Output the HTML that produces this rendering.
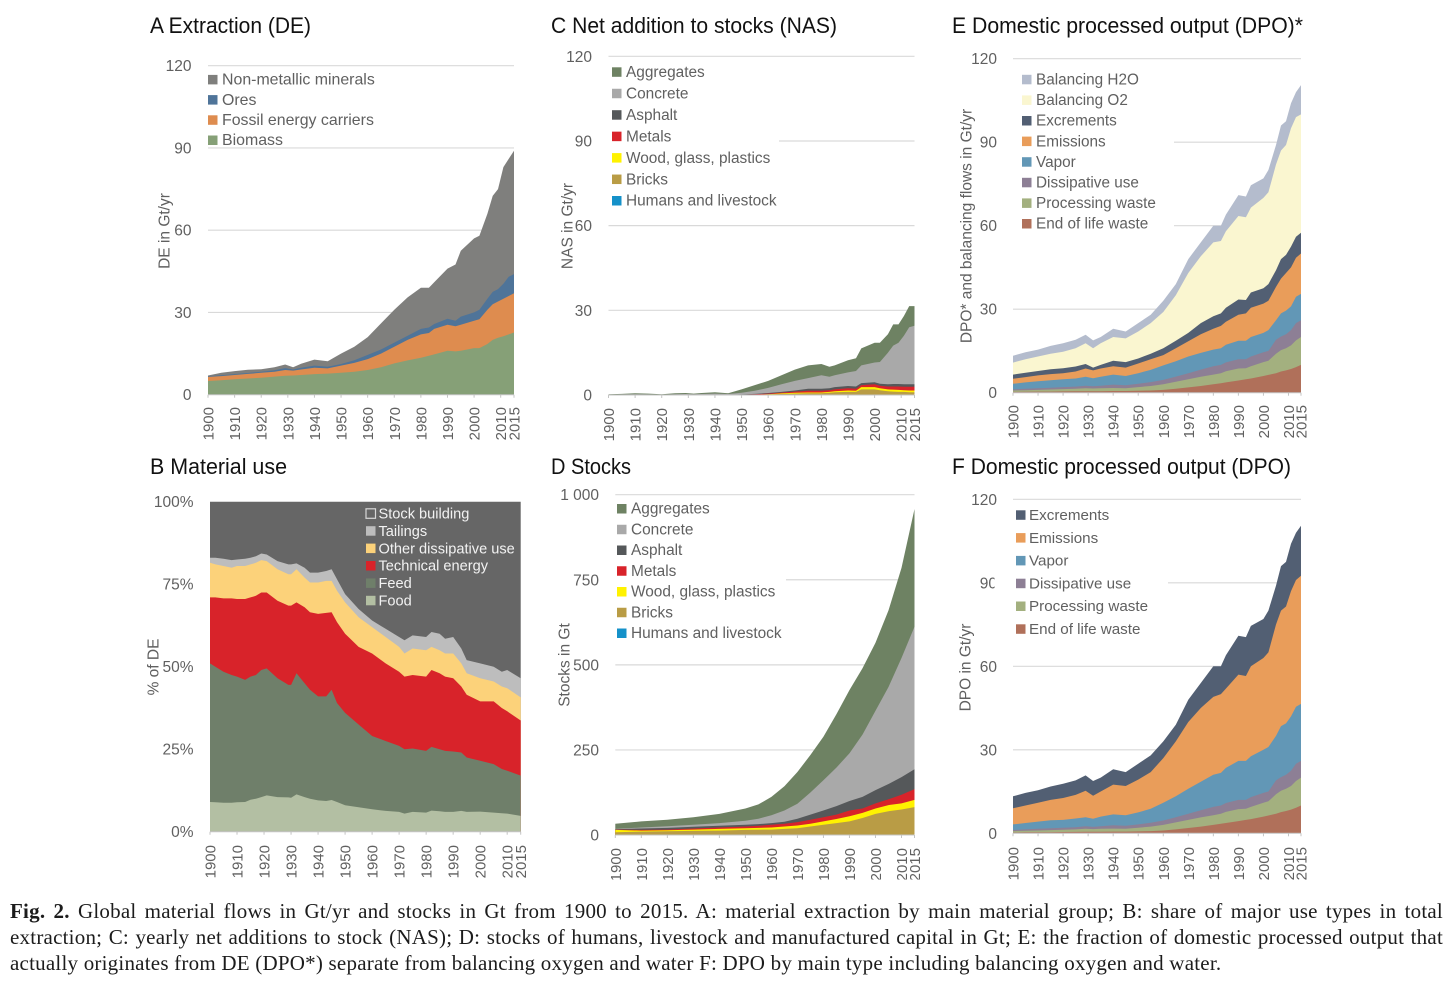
<!DOCTYPE html>
<html lang="en">
<head>
<meta charset="utf-8">
<title>Global material flows 1900-2015</title>
<style>
html,body{margin:0;padding:0;background:#fff;}
#page{position:relative;width:1456px;height:990px;overflow:hidden;background:#fff;}
svg{position:absolute;left:0;top:0;font-family:"Liberation Sans",sans-serif;}
.cap{position:absolute;left:10px;width:1433px;font-family:"Liberation Serif",serif;font-size:21px;letter-spacing:.22px;line-height:26px;color:#1c1c1c;white-space:nowrap;}
.just{text-align:justify;text-align-last:justify;white-space:normal;}
</style>
</head>
<body>
<div id="page">
<svg id="fig" width="1456" height="890" viewBox="0 0 1456 890" xmlns="http://www.w3.org/2000/svg"></svg>
<div class="cap just" style="top:898px"><b>Fig. 2.</b> Global material flows in Gt/yr and stocks in Gt from 1900 to 2015. A: material extraction by main material group; B: share of major use types in total</div>
<div class="cap just" style="top:924px">extraction; C: yearly net additions to stock (NAS); D: stocks of humans, livestock and manufactured capital in Gt; E: the fraction of domestic processed output that</div>
<div class="cap" style="top:950px">actually originates from DE (DPO*) separate from balancing oxygen and water F: DPO by main type including balancing oxygen and water.</div>
</div>
<script>
// ---------- shared axes ----------
const yearTicks = [1900,1910,1920,1930,1940,1950,1960,1970,1980,1990,2000,2010,2015];
const flowYears = [1900,1905,1910,1915,1920,1925,1929,1932,1935,1940,1945,1950,1955,1960,1965,1970,1975,1980,1983,1985,1990,1993,1995,2000,2002,2005,2007,2009,2011,2013,2015];

// All series below are stack heights (top edge of each band).

// ---------- A Extraction ----------
const aLabels = ["Non-metallic minerals","Ores","Fossil energy carriers","Biomass"];
const aTicks = [0,30,60,90,120];
const aMinerals = [7,8,8.6,9.1,9.3,10,11,10,11.3,12.8,12.2,15,17.5,21,26,31,35.5,39,39,41,46,47.5,52.5,57,58,66,72.5,75,83,86,89];
const aOres = [6.8,7.1,7.5,7.9,8.4,8.9,9.7,9.2,9.8,10.6,10.2,11.2,12.6,14.5,16.5,19,21.5,24,24.5,25.8,27.7,27,28.5,30,31,35,37.5,38.5,40.5,43,44];
const aFossil = [6.5,6.8,7.2,7.6,8,8.4,9,8.8,9.2,9.8,9.6,10.6,11.6,13,15,17.5,20,22,22.5,24,25.5,25,25.5,27,27.5,31,33,34,35,36,37];
const aBiomass = [5,5.3,5.6,5.9,6.2,6.6,6.9,7,7.2,7.5,7.7,8,8.4,9,10,11.4,12.5,13.5,14.2,14.7,16,15.8,16,17,17,18.5,20,20.8,21.3,22,22.7];

// ---------- C Net addition to stocks ----------
const cLabels = ["Aggregates","Concrete","Asphalt","Metals","Wood, glass, plastics","Bricks","Humans and livestock"];
const cTicks = [0,30,60,90,120];
const cAggregates = [.3,.4,.6,.5,.3,.6,.7,.5,.7,1,.6,2,3.5,5,7,9,10.5,11,10,10.5,12.3,13,16.5,18.5,18.5,21.5,25,25,28,31.5,31.5];
const cConcrete = [.15,.2,.25,.2,.15,.3,.35,.25,.35,.5,.35,.8,1.5,2.5,3.8,5,6,7,6.5,7,8,8.5,10.5,11.5,11.7,15,17.5,18.5,21,24,24.5];
const cAsphalt = [.12,.12,.12,.12,.12,.12,.12,.12,.12,.12,.12,.2,.4,.7,1.1,1.6,2.2,2.2,2.4,2.8,3.2,3,4.2,4.5,4,3.8,3.9,3.9,3.8,3.8,3.8];
const cMetals = [.1,.1,.1,.1,.1,.1,.1,.1,.1,.1,.1,.15,.3,.5,.85,1.2,1.5,1.5,1.7,2,2.4,2.2,3.5,3.8,3.3,3,3,3,2.9,2.9,2.9];
const cWood = [.07,.07,.07,.07,.07,.07,.07,.07,.07,.07,.07,.07,.07,.3,.55,.8,.9,.9,1.1,1.3,1.6,1.5,2.8,2.8,2.4,2,1.9,1.8,1.7,1.6,1.6];
const cBricks = [.05,.05,.05,.05,.05,.05,.05,.05,.05,.05,.05,.05,.05,.2,.35,.5,.6,.6,.8,1,1.1,1.1,2,2,1.7,1.3,1.2,1.1,1.1,1,1];
const cHumans = [.03,.03,.03,.03,.03,.03,.03,.03,.03,.03,.03,.03,.03,.03,.03,.03,.03,.03,.03,.03,.03,.03,.03,.03,.03,.03,.03,.03,.03,.03,.03];

// ---------- E Domestic processed output* ----------
const eLabels = ["Balancing H2O","Balancing O2","Excrements","Emissions","Vapor","Dissipative use","Processing waste","End of life waste"];
const eTicks = [0,30,60,90,120];
const eH2O = [13.3,14.5,15.5,16.8,17.8,19,20.8,18.8,20,23,22,25,28,33,39,48,54,60,60,64,71,70.5,74.5,77,80,89,96,97.5,104,108,110.5];
const eO2 = [10.8,12,13,14,14.7,16,17.8,16,17.8,20,19.5,22,25,29,35,43,49,54,54.5,58,63.5,63,66.5,70,72,82,87,89,95,99,100];
const eExcrements = [6.5,7.2,7.8,8.4,8.8,9.4,10.3,9,10,11.5,11,12.3,14,16,18.7,21.5,25,27.5,28.5,30.5,33.5,33.3,36,37.5,39,44,48,49.5,52.5,56,57.5];
const eEmissions = [5,5.6,6.2,6.7,7,7.6,8.7,8,8.7,9.5,9,10.5,12,13.5,16,18.5,21,23,24,25.5,28,28.5,30.5,32,33,38,41,43,45,48.5,50];
const eVapor = [3.2,3.7,4.1,4.5,4.8,5.1,5.7,5.2,5.7,6.5,6,7,8.2,9.8,11.3,13,14.3,15.5,16,17.2,18.7,18.7,20,21.5,22.5,26,28.5,29.5,31,34.5,35.5];
const eDissipative = [1.2,1.4,1.6,1.8,2,2.2,2.5,2.3,2.5,2.9,2.7,3.2,3.8,4.6,5.8,7,8.3,9.5,10,10.9,12,12,13,14.5,15,19,20.2,21,22.5,25,26];
const eProcessing = [.8,.9,1,1.15,1.3,1.4,1.6,1.5,1.6,1.7,1.6,2,2.4,3,3.9,4.8,5.7,6.5,7,7.7,8.7,8.8,9.5,11,11.5,14,15.3,16,17,18.8,20];
const eEndOfLife = [.3,.35,.4,.4,.45,.5,.55,.55,.55,.6,.6,.7,.8,1,1.4,1.9,2.4,3,3.4,3.7,4.4,4.8,5.1,6,6.4,7,7.6,8,8.5,9.2,10];

// ---------- F Domestic processed output ----------
const fLabels = ["Excrements","Emissions","Vapor","Dissipative use","Processing waste","End of life waste"];
const fTicks = [0,30,60,90,120];
const fExcrements = [13.3,14.5,15.5,16.8,17.8,19,20.8,18.8,20,23,22,25,28,33,39,48,54,60,60,64,71,70.5,74.5,77,80,89,96,97.5,104,108,110.5];
const fEmissions = [9,10,11,12,12.7,13.8,15.3,13.5,15,17.5,17,19.3,22,27,33,40,45,49,50,52,57,56.5,60,63,65,75,80,81.5,87,91,92.5];
const fVapor = [3.2,3.7,4.2,4.7,4.8,5.3,5.8,5.2,6,6.8,6.5,7.5,8.8,11,13.3,16,18.5,21,21.7,23.5,26,26,27.7,30,31,35,38.5,39.5,42,45.5,46.5];
const fDissipative = [1.2,1.4,1.6,1.8,2,2.2,2.5,2.3,2.5,2.9,2.7,3.2,3.8,4.6,5.8,7,8.3,9.5,10,10.9,12,12,13,14.5,15,19,20.2,21,22.5,25,26];
const fProcessing = [.8,.9,1,1.15,1.3,1.4,1.6,1.5,1.6,1.7,1.6,2,2.4,3,3.9,4.8,5.7,6.5,7,7.7,8.7,8.8,9.5,11,11.5,14,15.3,16,17,18.8,20];
const fEndOfLife = [.3,.35,.4,.4,.45,.5,.55,.55,.55,.6,.6,.7,.8,1,1.4,1.9,2.4,3,3.4,3.7,4.4,4.8,5.1,6,6.4,7,7.6,8,8.5,9.2,10];

// ---------- B Material use (percent) ----------
const bYears = [1900,1902,1905,1908,1910,1913,1915,1917,1919,1921,1925,1929,1930,1932,1935,1937,1940,1943,1945,1947,1950,1955,1960,1965,1970,1972,1975,1980,1982,1985,1987,1990,1993,1995,2000,2005,2008,2010,2015];
const bLabels = ["Stock building","Tailings","Other dissipative use","Technical energy","Feed","Food"];
const bTicks = [0,25,50,75,100];
const bStock = [100,100,100,100,100,100,100,100,100,100,100,100,100,100,100,100,100,100,100,100,100,100,100,100,100,100,100,100,100,100,100,100,100,100,100,100,100,100,100];
const bTailings = [83,83,82.7,82.3,82.5,82.7,83,83.5,84.3,84,82,81,81,81.3,80,78.5,78.5,79,79.5,76.5,72,67.5,64,61.5,59,58,59.5,59,60.5,60,58.5,59,55.5,52,51,50,48.5,49,46.5];
const bOther = [81.5,81,80.5,80,80.5,80.5,81,81.5,82.3,82,79.5,78,78,79.5,77,75.5,75.5,76,76,73,69.5,65,62,59,56,54,55.5,55,56,55,54,54,51,48,46.5,45.5,44,43.5,40.7];
const bTechnical = [71,71,70.7,70.7,70.5,70.5,71,71.5,72.5,72.5,70,68.5,68.5,69.5,68,66.5,66,66.3,66.5,63.5,60,56,54,51,48.5,47,47.5,47,49,48,47,46.5,44,41.5,39.5,39.5,37.5,36.5,33.7];
const bFeed = [51,50,48.5,47.5,47,46,47,47.5,49,49.5,46.5,44.5,44.5,48,45,43,41,41,43,39,36,32.5,29,27.5,26,25,25.2,24.5,25.7,25,24.5,24.3,24,22.5,21.5,20.5,19,18.5,17];
const bFood = [9,8.9,8.8,8.8,8.9,9,9.7,10,10.5,11,10.5,10.4,10.3,11.3,10.5,10,9.5,9.3,9.6,9,8,7.4,6.8,6.3,6,5.5,6,5.8,6.4,6.2,6,6,6.3,6,6.1,5.8,5.6,5.5,4.8];

// ---------- D Stocks ----------
const dYears = [1900,1910,1920,1930,1940,1950,1955,1960,1965,1970,1975,1980,1985,1990,1995,2000,2005,2010,2015];
const dLabels = ["Aggregates","Concrete","Asphalt","Metals","Wood, glass, plastics","Bricks","Humans and livestock"];
const dTicks = [0,250,500,750,1000];
const dTickText = ["0","250","500","750","1 000"];
const dAggregates = [33,40,45,52,62,78,90,112,143,185,235,289,355,426,490,565,660,785,958];
const dConcrete = [18,22,26,30,35,42,48,58,72,92,125,161,198,240,295,365,435,520,612];
const dAsphalt = [17,19,21,24,27,30,32,35,39,48,60,72,85,100,112,132,150,170,193];
const dMetals = [16,15,16,19,22,25,27,30,33,38,45,52,60,72,78,93,105,118,135];
const dWood = [15,13,14,16,18,20,21,22,25,28,33,40,47,55,65,78,88,93,103];
const dBricks = [8,10,11,12,13,15,15.5,16,18,20,25,30,35,40,50,62,70,75,82];
const dHumans = [.5,.5,.5,.6,.6,.7,.7,.8,.8,.9,.9,1,1,1.1,1.1,1.2,1.2,1.3,1.3];

const NS = 'http://www.w3.org/2000/svg';
const fig = document.getElementById('fig');

function make(tag, parent, attrs, name) {
  const el = document.createElementNS(NS, tag);
  for (const k in attrs) el.setAttribute(k, attrs[k]);
  
  
  parent.appendChild(el);
  return el;
}

function drawChart(o) {
  const g = make('g', fig, {}, o.id + '-chart');
  const xScale = v => o.x0 + (v - 1900) / 115 * (o.x1 - o.x0);
  const yScale = v => o.y0 + (v - o.yTicks[0]) / (o.yTicks[o.yTicks.length - 1] - o.yTicks[0]) * (o.y1 - o.y0);

  const title = make('text', g, {x:o.titleX, y:o.titleY, 'font-size':22, fill:'#111', textLength:o.titleW, lengthAdjust:'spacingAndGlyphs'}, o.id + '-title');
  title.textContent = o.title;

  // gridlines + y tick labels
  o.yTicks.forEach((t, i) => {
    const y = yScale(t);
    if (i > 0 && !o.noGrid) {
      const sx = (o.gridStart && o.gridStart[i]) || o.x0;
      make('line', g, {x1:sx, x2:o.x1, y1:y, y2:y, stroke:'#d9d9d9', 'stroke-width':1.2}, o.id + '-gridline');
    }
    const lab = make('text', g, {x:o.tickRight, y:y + 5.5, 'text-anchor':'end', 'font-size':15.5, fill:'#606060'}, o.id + '-y-tick-label');
    lab.textContent = o.yText ? o.yText[i] : t + (o.suffix || '');
  });

  // stacked bands, top band first so that lower bands paint over
  o.series.forEach((s, i) => {
    let pts = s.map((v, j) => xScale(o.years[j]).toFixed(1) + ',' + yScale(v).toFixed(1));
    pts.push(xScale(o.years[o.years.length - 1]).toFixed(1) + ',' + yScale(0).toFixed(1));
    pts.push(xScale(o.years[0]).toFixed(1) + ',' + yScale(0).toFixed(1));
    make('polygon', g, {points:pts.join(' '), fill:o.colors[i]}, o.id + '-band-' + o.labels[i].toLowerCase().replace(/[^a-z0-9]+/g, '-'));
  });

  // x axis
  make('line', g, {x1:o.x0, x2:o.x1, y1:o.y0, y2:o.y0, stroke:'#c4c4c4', 'stroke-width':1}, o.id + '-x-axis');
  yearTicks.forEach(t => {
    const x = xScale(t);
    make('line', g, {x1:x, x2:x, y1:o.y0, y2:o.y0 + 3, stroke:'#c4c4c4', 'stroke-width':1}, o.id + '-x-tick');
    const lab = make('text', g, {transform:'translate(' + (x + 5.5).toFixed(1) + ',' + o.xLabelY + ') rotate(-90)', 'text-anchor':'end', 'font-size':15, fill:'#606060'}, o.id + '-x-tick-label');
    lab.textContent = t;
  });

  // y axis title
  const yt = make('text', g, {transform:'translate(' + o.yTitleX + ',' + o.yTitleY + ') rotate(-90)', 'text-anchor':'middle', 'font-size':o.yTitleSize || 15.5, fill:'#606060'}, o.id + '-y-axis-title');
  yt.textContent = o.yTitle;

  // legend
  o.labels.forEach((label, i) => {
    const cy = o.legendY + i * o.legendStep;
    const entry = make('g', g, {}, o.id + '-legend-entry');
    const sw = make('rect', entry, {x:o.legendX, y:cy - 4.7, width:9.5, height:9.5, fill:o.swatches ? o.swatches[i] : o.colors[i]}, o.id + '-legend-swatch');
    if (o.swatchStroke && o.swatchStroke[i]) {
      sw.setAttribute('stroke', o.swatchStroke[i]);
      sw.setAttribute('stroke-width', '1.2');
    }
    const tx = make('text', entry, {x:o.legendX + (o.legendGap || 14), y:cy + 5, 'font-size':o.legendSize || 15.4, fill:o.legendColor || '#606060'}, o.id + '-legend-label');
    tx.textContent = label;
  });
}

const panelA = {id:'panel-a', title:'A Extraction (DE)', titleX:150, titleY:33, titleW:161,
  x0:208, x1:514, y0:394.7, y1:65.7, yTicks:aTicks, tickRight:191.5, xLabelY:407, years:flowYears,
  series:[aMinerals,aOres,aFossil,aBiomass], labels:aLabels, colors:['#7f7f7d','#4f7499','#de8c4f','#86a077'],
  legendX:208, legendY:79.6, legendStep:20.2, legendSize:15.9, yTitle:'DE in Gt/yr', yTitleX:169.5, yTitleY:231};
drawChart(panelA);

const panelC = {id:'panel-c', title:'C Net addition to stocks (NAS)', titleX:551, titleY:33, titleW:286,
  x0:608.5, x1:914.5, y0:395, y1:56.3, yTicks:cTicks, tickRight:592, xLabelY:408, years:flowYears,
  series:[cAggregates,cConcrete,cAsphalt,cMetals,cWood,cBricks,cHumans], labels:cLabels,
  colors:['#6e8263','#a9a9a9','#55585a','#d8232a','#fff200','#b99c45','#1591c9'],
  gridStart:{3:779}, legendX:612, legendY:72, legendStep:21.45, yTitle:'NAS in Gt/yr', yTitleX:572.5, yTitleY:226};
drawChart(panelC);

const panelE = {id:'panel-e', title:'E Domestic processed output (DPO)*', titleX:952, titleY:33, titleW:351,
  x0:1013, x1:1301, y0:392.7, y1:58.7, yTicks:eTicks, tickRight:997, xLabelY:405, years:flowYears,
  series:[eH2O,eO2,eExcrements,eEmissions,eVapor,eDissipative,eProcessing,eEndOfLife], labels:eLabels,
  colors:['#b4bccd','#faf6d0','#525f73','#e99d5a','#6297b6','#8d7f95','#a3b07f','#b0705a'],
  gridStart:{2:1174,3:1174}, legendX:1022, legendY:79.5, legendStep:20.6, legendSize:15.3,
  yTitle:'DPO* and balancing flows  in Gt/yr', yTitleX:971.5, yTitleY:226};
drawChart(panelE);

const panelB = {id:'panel-b', title:'B Material use', titleX:150, titleY:474, titleW:137,
  x0:210, x1:520.7, y0:831.7, y1:501.7, yTicks:bTicks, suffix:'%', tickRight:193.5, xLabelY:845, years:bYears, noGrid:true,
  series:[bStock,bTailings,bOther,bTechnical,bFeed,bFood], labels:bLabels,
  colors:['#666666','#bdbdbd','#fcd27a','#d8232a','#6f7f6a','#b3bfa3'],
  swatches:['#666666','#bdbdbd','#fcd27a','#d8232a','#6f7f6a','#b3bfa3'], swatchStroke:['#d8d8d8'],
  legendX:366, legendY:513.5, legendStep:17.4, legendGap:12.5, legendColor:'#f2f2f2', legendSize:14.6,
  yTitle:'% of DE', yTitleX:158.5, yTitleY:667};
drawChart(panelB);

const panelD = {id:'panel-d', title:'D Stocks', titleX:551, titleY:474, titleW:80,
  x0:615.3, x1:914.5, y0:835, y1:494.7, yTicks:dTicks, yText:dTickText, tickRight:599, xLabelY:848, years:dYears,
  series:[dAggregates,dConcrete,dAsphalt,dMetals,dWood,dBricks,dHumans], labels:dLabels,
  colors:['#6e8263','#a9a9a9','#55585a','#d8232a','#fff200','#b99c45','#1591c9'],
  gridStart:{3:786}, legendX:617, legendY:508.7, legendStep:20.75, yTitle:'Stocks in Gt', yTitleX:569.5, yTitleY:665};
drawChart(panelD);

const panelF = {id:'panel-f', title:'F Domestic processed output (DPO)', titleX:952, titleY:474, titleW:339,
  x0:1013, x1:1301, y0:833.3, y1:499.3, yTicks:fTicks, tickRight:997, xLabelY:847, years:flowYears,
  series:[fExcrements,fEmissions,fVapor,fDissipative,fProcessing,fEndOfLife], labels:fLabels,
  colors:['#525f73','#e99d5a','#6297b6','#8d7f95','#a3b07f','#b0705a'],
  gridStart:{3:1168}, legendX:1016, legendY:515, legendStep:22.8, legendGap:13, legendSize:15.2, yTitle:'DPO in Gt/yr', yTitleX:970.5, yTitleY:667.5};
drawChart(panelF);

// the reference crops the "90" tick of panel F and the bottom of panel D's year labels
make('rect', fig, {x:994.5, y:576, width:5, height:15, fill:'#fff'}, 'panel-f-tick-mask');
make('rect', fig, {x:605, y:879.5, width:325, height:8, fill:'#fff'}, 'panel-d-label-mask');
</script>
</body>
</html>
